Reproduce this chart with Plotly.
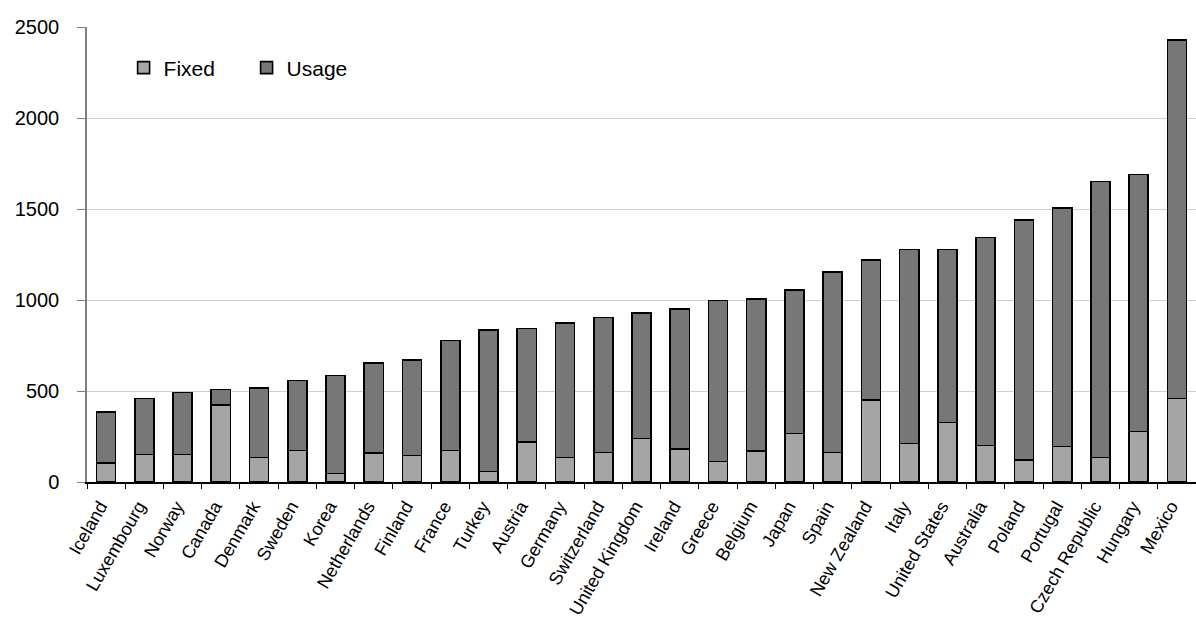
import plotly.graph_objects as go

countries = [
    "Iceland", "Luxembourg", "Norway", "Canada", "Denmark", "Sweden", "Korea",
    "Netherlands", "Finland", "France", "Turkey", "Austria", "Germany",
    "Switzerland", "United Kingdom", "Ireland", "Greece", "Belgium", "Japan",
    "Spain", "New Zealand", "Italy", "United States", "Australia", "Poland",
    "Portugal", "Czech Republic", "Hungary", "Mexico",
]
fixed = [104, 152, 152, 423, 134, 174, 47, 159, 145, 174, 57, 221, 135, 163,
         240, 181, 113, 172, 267, 163, 452, 212, 328, 201, 122, 194, 135, 278, 459]
usage = [280, 307, 339, 86, 384, 383, 539, 495, 527, 604, 778, 623, 738, 740,
         690, 769, 885, 835, 789, 991, 769, 1066, 950, 1143, 1317, 1313, 1517, 1412, 1971]
y_ticks = [0, 500, 1000, 1500, 2000, 2500]

FONT = "Liberation Sans, Arial, sans-serif"
outline = dict(color="black", width=1.6)

fig = go.Figure()
fig.add_trace(go.Bar(name="Fixed", x=countries, y=fixed,
                     marker=dict(color="#a5a5a5", line=outline)))
fig.add_trace(go.Bar(name="Usage", x=countries, y=usage,
                     marker=dict(color="#777777", line=outline)))

fig.update_layout(
    barmode="stack",
    bargap=0.5,
    width=1196, height=619,
    margin=dict(l=87, r=0, t=27, b=137, autoexpand=False),
    paper_bgcolor="white", plot_bgcolor="white",
    font=dict(family=FONT, color="black", size=19),
    legend=dict(
        orientation="h", x=0.033, y=0.91, xanchor="left", yanchor="middle",
        font=dict(size=21), bgcolor="rgba(0,0,0,0)", traceorder="normal",
        entrywidth=78, entrywidthmode="pixels", itemwidth=30,
    ),
    showlegend=True,
)
fig.update_yaxes(
    range=[0, 2500], tickvals=y_ticks, showgrid=True, gridcolor="#d0d0d0",
    gridwidth=1, showline=True, linecolor="#808080", linewidth=1.5,
    ticks="outside", ticklen=8, tickcolor="#808080", ticklabelstandoff=14,
    zeroline=False, tickfont=dict(size=20),
)
fig.update_xaxes(
    showline=True, linecolor="black", linewidth=1.5, ticks="outside",
    tickson="boundaries", ticklen=5, tickcolor="black", tickangle=-60,
    tickfont=dict(size=18), showgrid=False, ticklabelstandoff=5,
    ticklabelshift=-6,
)

fig.write_html("out.html")
